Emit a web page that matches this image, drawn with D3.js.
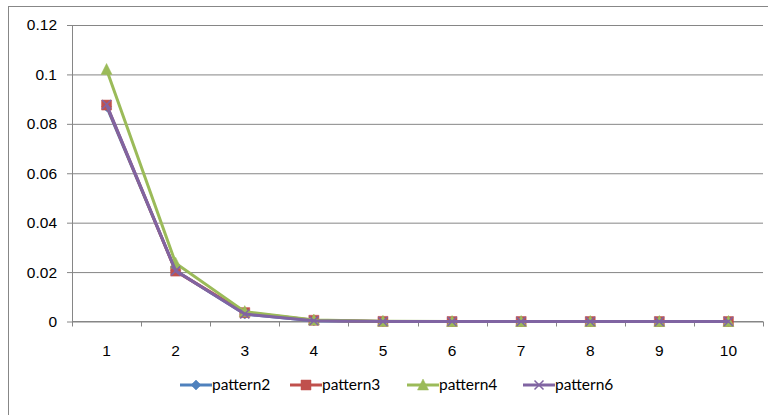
<!DOCTYPE html>
<html>
<head>
<meta charset="utf-8">
<script src="https://cdn.jsdelivr.net/npm/d3@7"></script>
<style>
  html, body { margin: 0; padding: 0; background: #fff; }
  svg { display: block; font-family: Lato, "Open Sans", sans-serif; }
</style>
</head>
<body>
<svg id="chart" width="768" height="415"></svg>
<script>
// Categories along the x axis
const categories = [1, 2, 3, 4, 5, 6, 7, 8, 9, 10];
// Series values
const pattern2 = [0.0870, 0.0205, 0.0030, 0.0003, 0.00003, 0, 0, 0, 0, 0];
const pattern3 = [0.0876, 0.0204, 0.0036, 0.0005, 0.00005, 0, 0, 0, 0, 0];
const pattern4 = [0.1020, 0.0236, 0.0040, 0.0006, 0.00006, 0, 0, 0, 0, 0];
const pattern6 = [0.0878, 0.0205, 0.0030, 0.0003, 0.00003, 0, 0, 0, 0, 0];
const seriesNames = ["pattern2", "pattern3", "pattern4", "pattern6"];
// Y tick values
const yTicks = [0, 0.02, 0.04, 0.06, 0.08, 0.1, 0.12];

const series = [
  { name: seriesNames[0], values: pattern2, color: "#4F81BD", marker: "diamond" },
  { name: seriesNames[1], values: pattern3, color: "#C0504D", marker: "square" },
  { name: seriesNames[2], values: pattern4, color: "#9BBB59", marker: "triangle" },
  { name: seriesNames[3], values: pattern6, color: "#8064A2", marker: "cross" }
];

const FS = 15.5;
const svg = d3.select("#chart");
const plot = { left: 72, right: 763, top: 25, bottom: 321.5 };

// Outer chart frame
svg.append("rect")
  .attr("x", 8.5).attr("y", 6.5)
  .attr("width", 768).attr("height", 420)
  .attr("fill", "#fff").attr("stroke", "#878787").attr("stroke-width", 1);

const x = d3.scaleBand().domain(categories).range([plot.left, plot.right]);
const y = d3.scaleLinear().domain([0, 0.12]).range([plot.bottom, plot.top]);

// Horizontal gridlines with y labels
const yAxis = d3.axisLeft(y).tickValues(yTicks)
  .tickFormat(d => d === 0 ? "0" : String(+d.toFixed(2)))
  .tickSize(-(plot.right - plot.left)).tickPadding(15);
const gy = svg.append("g").attr("transform", `translate(${plot.left},0)`).call(yAxis);
gy.select(".domain").remove();
gy.selectAll(".tick line").attr("stroke", "#868686").attr("x1", -5);
gy.selectAll(".tick text").attr("font-size", FS).attr("fill", "#000");

// Vertical axis line
svg.append("line")
  .attr("x1", plot.left + 0.5).attr("x2", plot.left + 0.5)
  .attr("y1", plot.top).attr("y2", plot.bottom)
  .attr("stroke", "#868686");

// Category axis
const xAxis = d3.axisBottom(x).tickSize(0).tickPadding(23);
const gx = svg.append("g").attr("transform", `translate(0,${plot.bottom})`).call(xAxis);
gx.select(".domain").remove();
gx.selectAll(".tick text").attr("font-size", FS).attr("fill", "#000");
svg.append("line")
  .attr("x1", plot.left).attr("x2", plot.right)
  .attr("y1", plot.bottom).attr("y2", plot.bottom)
  .attr("stroke", "#868686");
// Tick marks at category boundaries
const boundaries = categories.map(c => x(c)).concat([x(categories[categories.length - 1]) + x.bandwidth()]);
svg.append("g").selectAll("line").data(boundaries).join("line")
  .attr("x1", d => Math.round(d) + 0.5).attr("x2", d => Math.round(d) + 0.5)
  .attr("y1", plot.bottom).attr("y2", plot.bottom + 5)
  .attr("stroke", "#868686");

const cx = c => x(c) + x.bandwidth() / 2;

function markerPath(type, size) {
  const s = size / 2;
  if (type === "diamond") return `M0,${-s}L${s},0L0,${s}L${-s},0Z`;
  if (type === "square") return `M${-s},${-s}H${s}V${s}H${-s}Z`;
  if (type === "triangle") return `M0,${-s - 1}L${s + 0.5},${s}L${-s - 0.5},${s}Z`;
  return `M${-s},${-s}L${s},${s}M${s},${-s}L${-s},${s}`;
}

function drawMarker(g, type, color) {
  if (type === "cross") {
    g.append("path").attr("d", markerPath(type, 9))
      .attr("stroke", color).attr("stroke-width", 1.5).attr("fill", "none");
  } else {
    g.append("path").attr("d", markerPath(type, type === "diamond" ? 10 : 10))
      .attr("fill", color).attr("stroke", color).attr("stroke-width", 0.5);
  }
}

const line = d3.line().x((d, i) => cx(categories[i])).y(d => y(d));

series.forEach(s => {
  const g = svg.append("g");
  g.append("path").datum(s.values)
    .attr("d", line)
    .attr("fill", "none").attr("stroke", s.color)
    .attr("stroke-width", 3).attr("stroke-linejoin", "round");
  s.values.forEach((v, i) => {
    const m = g.append("g").attr("transform", `translate(${cx(categories[i])},${y(v)})`);
    drawMarker(m, s.marker, s.color);
  });
});

// Legend
const legendX = [180, 290, 407, 523];
const legendY = 385;
series.forEach((s, i) => {
  const g = svg.append("g").attr("transform", `translate(${legendX[i]},${legendY})`);
  g.append("line").attr("x1", 0).attr("x2", 32).attr("y1", 0).attr("y2", 0)
    .attr("stroke", s.color).attr("stroke-width", 3);
  const m = g.append("g").attr("transform", "translate(16,0)");
  drawMarker(m, s.marker, s.color);
  g.append("text").attr("x", 32).attr("y", 0).attr("dy", "0.35em")
    .attr("font-size", FS).attr("fill", "#000").text(s.name);
});
</script>
</body>
</html>
